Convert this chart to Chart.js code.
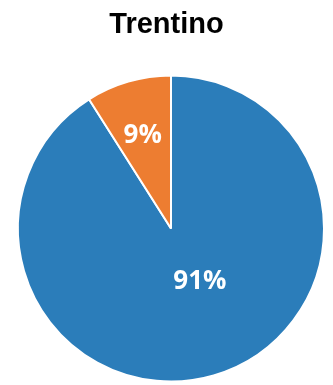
<!DOCTYPE html>
<html>
<head>
<meta charset="utf-8">
<script src="https://cdn.jsdelivr.net/npm/chart.js@4"></script>
<style>
  html, body { margin: 0; padding: 0; background: #ffffff; }
  #wrap { width: 333px; height: 385px; position: relative; }
</style>
</head>
<body>
<div id="wrap"><canvas id="c" width="333" height="385"></canvas></div>
<script>
const chartTitle = "Trentino";
const categories = ["Sì", "No"];
const values = [91, 9];
const sliceColors = ["#2b7dba", "#ed7d31"];
const labelRadiusFactor = [0.395, 0.635];
const labelAngleShiftDeg = [-12.3, -0.7];

const titlePlugin = {
  id: 'centeredTitle',
  afterDraw(chart) {
    const ctx = chart.ctx;
    ctx.save();
    ctx.fillStyle = '#000000';
    ctx.font = 'bold 29px "Liberation Sans", Arial, sans-serif';
    ctx.textAlign = 'center';
    ctx.textBaseline = 'alphabetic';
    ctx.fillText(chartTitle, chart.width / 2, 33);
    ctx.restore();
  }
};

const pieLabels = {
  id: 'pieLabels',
  afterDatasetsDraw(chart) {
    const ctx = chart.ctx;
    const meta = chart.getDatasetMeta(0);
    const total = values.reduce((a, b) => a + b, 0);
    ctx.save();
    ctx.fillStyle = '#ffffff';
    ctx.font = 'bold 26px "Open Sans", sans-serif';
    ctx.textAlign = 'center';
    ctx.textBaseline = 'middle';
    meta.data.forEach((arc, i) => {
      const p = arc.getProps(['x', 'y', 'startAngle', 'endAngle', 'outerRadius'], true);
      const mid = (p.startAngle + p.endAngle) / 2 + labelAngleShiftDeg[i] * Math.PI / 180;
      const r = p.outerRadius * labelRadiusFactor[i];
      const x = p.x + Math.cos(mid) * r;
      const y = p.y + Math.sin(mid) * r;
      ctx.fillText(Math.round(values[i] / total * 100) + '%', x, y);
    });
    ctx.restore();
  }
};

new Chart(document.getElementById('c'), {
  type: 'pie',
  data: {
    labels: categories,
    datasets: [{
      data: values,
      backgroundColor: sliceColors,
      borderColor: '#ffffff',
      borderWidth: 2
    }]
  },
  options: {
    responsive: false,
    animation: false,
    layout: { padding: { left: 9, top: 74.5, bottom: 2.5 } },
    plugins: {
      legend: { display: false },
      tooltip: { enabled: false },
      title: { display: false }
    }
  },
  plugins: [pieLabels, titlePlugin]
});
</script>
</body>
</html>
